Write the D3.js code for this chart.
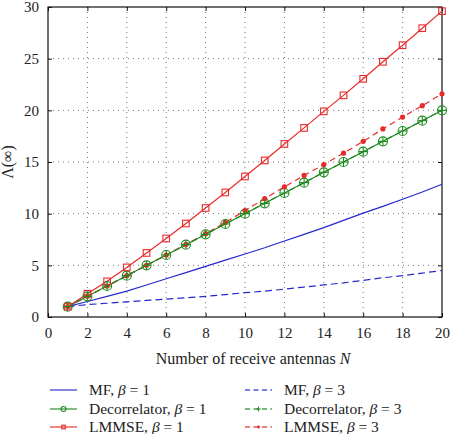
<!DOCTYPE html>
<html><head><meta charset="utf-8">
<script src="https://cdn.jsdelivr.net/npm/d3@7"></script>
<style>body{margin:0;background:#fff}svg{display:block}</style>
</head><body><svg id="c" width="450" height="434" font-family="Liberation Serif"></svg>
<script>
const N = [1,2,3,4,5,6,7,8,9,10,11,12,13,14,15,16,17,18,19,20];
const mf1 = [1.0,1.5,2.0,2.5,3.1,3.7,4.3,4.9,5.5,6.1,6.7,7.35,8.0,8.65,9.35,10.05,10.7,11.4,12.1,12.85];
const mf3 = [1.0,1.2,1.33,1.47,1.6,1.72,1.86,2.0,2.17,2.35,2.5,2.7,2.9,3.1,3.3,3.55,3.8,4.0,4.25,4.5];
const dec1 = [1,2,3,4,5,6,7,8,9,10,11,12,13,14,15,16,17,18,19,20];
const dec3 = [1,2,3,4,5,6,7,8,9,10,11,12,13,14,15,16,17,18,19,20];
const lm1 = [1.0,2.25,3.45,4.8,6.2,7.6,9.05,10.55,12.05,13.6,15.15,16.75,18.3,19.9,21.45,23.05,24.7,26.3,27.95,29.6];
const lm3 = [1.0,2.0,3.0,4.0,5.0,6.0,7.02,8.06,9.15,10.3,11.45,12.6,13.7,14.75,15.85,17.0,18.2,19.35,20.45,21.6];
const xTicks = [0,2,4,6,8,10,12,14,16,18,20];
const yTicks = [0,5,10,15,20,25,30];
const seriesNames = ["MF, β = 1","MF, β = 3","Decorrelator, β = 1","Decorrelator, β = 3","LMMSE, β = 1","LMMSE, β = 3"];

const FONT="Liberation Serif";
const BLUE="#2727d0", GREEN="#1f8a1f", RED="#ea2a2a";
const series = [
  {name:seriesNames[0], v:mf1, color:BLUE, dash:null, marker:null},
  {name:seriesNames[2], v:dec1, color:GREEN, dash:null, marker:"circle"},
  {name:seriesNames[4], v:lm1, color:RED, dash:null, marker:"square"},
  {name:seriesNames[1], v:mf3, color:BLUE, dash:"7,4", marker:null},
  {name:seriesNames[3], v:dec3, color:GREEN, dash:"6,4", marker:"plus"},
  {name:seriesNames[5], v:lm3, color:RED, dash:"6,4", marker:"dot"}
];

const svg = d3.select("#c");
const L=48, R=442, T=7, B=317;
const x = d3.scaleLinear().domain([0,20]).range([L,R]);
const y = d3.scaleLinear().domain([0,30]).range([B,T]);

// grid
const g = svg.append("g");
g.selectAll(".gx").data(xTicks.slice(1,-1)).join("line")
  .attr("x1",d=>x(d)).attr("x2",d=>x(d)).attr("y1",T).attr("y2",B)
  .attr("stroke","#777").attr("stroke-width",1).attr("stroke-dasharray","1,4");
g.selectAll(".gy").data(yTicks.slice(1,-1)).join("line")
  .attr("y1",d=>y(d)).attr("y2",d=>y(d)).attr("x1",L).attr("x2",R)
  .attr("stroke","#777").attr("stroke-width",1).attr("stroke-dasharray","1,4");

// axes
const ax = svg.append("g").attr("transform",`translate(0,${B})`)
  .call(d3.axisBottom(x).tickValues(xTicks).tickSizeInner(-4).tickSizeOuter(0).tickPadding(10));
const ay = svg.append("g").attr("transform",`translate(${L},0)`)
  .call(d3.axisLeft(y).tickValues(yTicks).tickSizeInner(-4).tickSizeOuter(0).tickPadding(9));
const axT = svg.append("g").attr("transform",`translate(0,${T})`)
  .call(d3.axisTop(x).tickValues(xTicks).tickSizeInner(-4).tickSizeOuter(0).tickFormat(""));
const ayR = svg.append("g").attr("transform",`translate(${R},0)`)
  .call(d3.axisRight(y).tickValues(yTicks).tickSizeInner(-4).tickSizeOuter(0).tickFormat(""));
[ax,ay,axT,ayR].forEach(a=>{a.select(".domain").remove();a.selectAll("line").attr("stroke","#111");a.attr("font-family",FONT).attr("font-size",15);});
[ax,ay].forEach(a=>a.selectAll("text").attr("font-family",FONT).attr("font-size",15).attr("fill","#222"));
svg.append("rect").attr("x",L).attr("y",T).attr("width",R-L).attr("height",B-T)
  .attr("fill","none").attr("stroke","#111").attr("stroke-width",1.2);

// lines
const line = d3.line().x((d,i)=>x(N[i])).y(d=>y(d));
function drawMarker(sel, type, color, cx, cy, s){
  if(type==="circle"){
    sel.append("circle").attr("cx",cx).attr("cy",cy).attr("r",4.5*s).attr("fill","none").attr("stroke",color).attr("stroke-width",1.1);
  } else if(type==="square"){
    sel.append("rect").attr("x",cx-3.3*s).attr("y",cy-3.3*s).attr("width",6.6*s).attr("height",6.6*s).attr("fill","none").attr("stroke",color).attr("stroke-width",1.1);
  } else if(type==="plus"){
    sel.append("path").attr("d",`M${cx-4*s},${cy}H${cx+4*s}M${cx},${cy-4*s}V${cy+4*s}`).attr("stroke",color).attr("stroke-width",1.1);
  } else if(type==="dot"){
    sel.append("circle").attr("cx",cx).attr("cy",cy).attr("r",2.6*s).attr("fill",color);
  }
}
const order=[0,3,1,2,5,4];
order.forEach(k=>{
  const s=series[k];
  svg.append("path").datum(s.v).attr("d",line).attr("fill","none")
    .attr("stroke",s.color).attr("stroke-width",1.2).attr("stroke-dasharray",s.dash);
});
order.forEach(k=>{
  const s=series[k];
  if(!s.marker) return;
  const mg=svg.append("g");
  s.v.forEach((v,i)=>drawMarker(mg,s.marker,s.color,x(N[i]),y(v),1));
});

// axis labels
const xl=svg.append("text").attr("x",(L+R)/2+8).attr("y",364).attr("text-anchor","middle")
  .attr("font-family",FONT).attr("font-size",16).attr("fill","#222");
xl.append("tspan").text("Number of receive antennas ");
xl.append("tspan").attr("font-style","italic").text("N");
svg.append("text").attr("transform","translate(13,162) rotate(-90)").attr("text-anchor","middle")
  .attr("font-family",FONT).attr("font-size",16).attr("fill","#222").text("Λ(∞)");

// legend
const legPos = [[50,390],[50,409],[50,427],[245,390],[245,409],[245,427]];
series.forEach((s,i)=>{
  const [lx,ly]=legPos[i];
  const lg=svg.append("g");
  lg.append("line").attr("x1",lx).attr("x2",lx+27).attr("y1",ly).attr("y2",ly)
    .attr("stroke",s.color).attr("stroke-width",1.4).attr("stroke-dasharray",s.dash?"5,3.5":null).attr("opacity",0.8);
  if(s.marker) drawMarker(lg,s.marker,s.color,lx+13.5,ly,0.55);
  const parts=s.name.split("β");
  const t=lg.append("text").attr("x",lx+39).attr("y",ly+5)
    .attr("font-family",FONT).attr("font-size",15.5).attr("fill","#222");
  t.append("tspan").text(parts[0]);
  t.append("tspan").attr("font-style","italic").text("β");
  t.append("tspan").text(parts[1]);
});
</script></body></html>
